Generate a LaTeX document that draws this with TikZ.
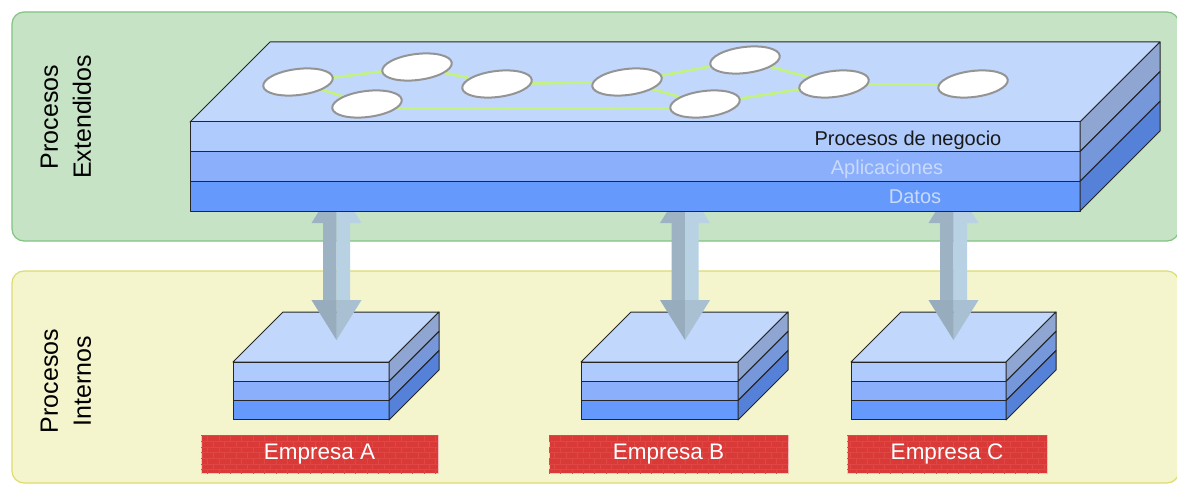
\documentclass[tikz,border=0pt]{standalone}
\usepackage{fontspec}
\setmainfont{Liberation Sans}
\usetikzlibrary{calc,patterns,shapes.geometric}

\definecolor{panelG}{HTML}{C6E3C6}
\definecolor{panelGline}{HTML}{82C282}
\definecolor{panelY}{HTML}{F4F4CD}
\definecolor{panelYline}{HTML}{DCDC70}
\definecolor{topface}{HTML}{C2D7FC}
\definecolor{layerA}{HTML}{AFCAFC}
\definecolor{layerB}{HTML}{8CAFFB}
\definecolor{layerC}{HTML}{6699FC}
\definecolor{sideA}{HTML}{90A6D2}
\definecolor{sideB}{HTML}{7698DA}
\definecolor{sideC}{HTML}{5681D8}
\definecolor{linkgreen}{HTML}{C4F27E}
\definecolor{arrowdark}{HTML}{9DB3C4}
\definecolor{arrowlight}{HTML}{B8D2E3}
\definecolor{tagred}{HTML}{D93A38}
\definecolor{brick}{HTML}{DF4745}
\definecolor{softtext}{HTML}{C8DAFE}

\tikzset{
  slabedge/.style={draw=black!85, line width=1pt, line join=round},
  panel/.style={rounded corners=12pt, line width=1.2pt},
  proc/.style={ellipse, draw=black!42, fill=white, line width=2pt,
    minimum width=70pt, minimum height=26pt, inner sep=0pt, rotate=7},
  link/.style={linkgreen, line width=2.6pt},
  tag/.style={rectangle, fill=tagred, draw=white!70!tagred, line width=0.8pt,
    postaction={pattern=bricks, pattern color=brick},
    minimum width=#1, minimum height=38pt, inner sep=0pt, text=white,
    font=\fontsize{22.5}{26}\selectfont},
  sidelabel/.style={rotate=90, align=center, font=\fontsize{25}{33}\selectfont},
  layerlabel/.style={anchor=base, font=\fontsize{20}{24}\selectfont}
}

% three-layer block: left x, front top y, width, layer height, depth
\newcommand\layerslab[5]{%
  \begin{scope}[shift={(#1,#2)}]
    \filldraw[slabedge, fill=topface] (0,0) -- (#5,-#5) -- (#3+#5,-#5) -- (#3,0) -- cycle;
    \foreach \i/\f/\s in {0/layerA/sideA,1/layerB/sideB,2/layerC/sideC}{
      \filldraw[slabedge, fill=\f] (0,\i*#4) rectangle (#3,\i*#4+#4);
      \filldraw[slabedge, fill=\s] (#3,\i*#4) -- (#3+#5,\i*#4-#5)
        -- (#3+#5,\i*#4+#4-#5) -- (#3,\i*#4+#4) -- cycle;
    }
  \end{scope}}

% two-headed vertical exchange arrow between two named points
\newcommand\duplexarrow[2]{%
  \fill[arrowdark] (#1) -- ($(#1)+(-25,40)$) -- ($(#1)+(-13.5,40)$)
    -- ($(#2)+(-13.5,-40)$) -- ($(#2)+(-25,-40)$) -- (#2) -- cycle;
  \fill[arrowlight] (#1) -- ($(#1)+(25,40)$) -- ($(#1)+(13.5,40)$)
    -- ($(#2)+(13.5,-40)$) -- ($(#2)+(25,-40)$) -- (#2) -- cycle;
  \fill[arrowdark!90!black, opacity=0.35] ($(#2)+(-25,-40)$) -- ($(#2)+(25,-40)$) -- (#2) -- cycle;
}

\begin{document}
\begin{tikzpicture}[x=1pt, y=-1pt]
  \useasboundingbox (0,0) rectangle (1177,484);
  \clip (0,0) rectangle (1177,484);

  % background panels
  \filldraw[panel, fill=panelG, draw=panelGline] (12,12) rectangle (1179,241);
  \filldraw[panel, fill=panelY, draw=panelYline] (12,271) rectangle (1179,483);

  \node[sidelabel] (lblext) at (66,117) {Procesos\\Extendidos};
  \node[sidelabel] (lblint) at (66,381) {Procesos\\Internos};

  % company blocks
  \layerslab{233}{362}{156}{19.33}{50}
  \layerslab{581}{362}{157}{19.33}{50}
  \layerslab{851}{362}{155}{19.33}{50}

  % company tags
  \node[tag=237pt] (tagA) at (319.5,454) {Empresa A};
  \node[tag=239pt] (tagB) at (668.5,454) {Empresa B};
  \node[tag=200pt] (tagC) at (947,454) {Empresa C};

  % exchange arrows between the shared layer and each company
  \coordinate (upA) at (336.5,183);  \coordinate (downA) at (336.5,340);
  \coordinate (upB) at (685,183);    \coordinate (downB) at (685,340);
  \coordinate (upC) at (953.5,183);  \coordinate (downC) at (953.5,340);
  \duplexarrow{upA}{downA}
  \duplexarrow{upB}{downB}
  \duplexarrow{upC}{downC}

  % shared process layer
  \layerslab{190}{122}{890}{29.67}{80}

  \node[layerlabel, text=black!90] (lblproc) at (908,145.7) {Procesos de negocio};
  \node[layerlabel, text=softtext] (lblapp) at (887,174.5) {Aplicaciones};
  \node[layerlabel, text=softtext] (lbldat) at (915,203.5) {Datos};

  % business processes on top of the shared layer
  \coordinate (e1) at (298,82);
  \coordinate (e2) at (417,67);
  \coordinate (e3) at (367,104);
  \coordinate (e4) at (497,84);
  \coordinate (e5) at (627,82);
  \coordinate (e6) at (745,60);
  \coordinate (e7) at (705,104);
  \coordinate (e8) at (834,84);
  \coordinate (e9) at (973,84);
  \draw[link] (e1) -- (e2);
  \draw[link] (e1) -- (e3);
  \draw[link] (e2) -- (e4);
  \draw[link] (e4) -- (e5);
  \draw[link] ([yshift=-4.5pt]e3) -- ([yshift=-4.5pt]e7);
  \draw[link] (e5) -- (e6);
  \draw[link] (e5) -- (e7);
  \draw[link] (e6) -- (e8);
  \draw[link] (e7) -- (e8);
  \draw[link] (e8) -- (e9);
  \foreach \p in {e1,e2,e3,e4,e5,e6,e7,e8,e9}
    \node[proc] (\p box) at (\p) {};
\end{tikzpicture}
\end{document}
